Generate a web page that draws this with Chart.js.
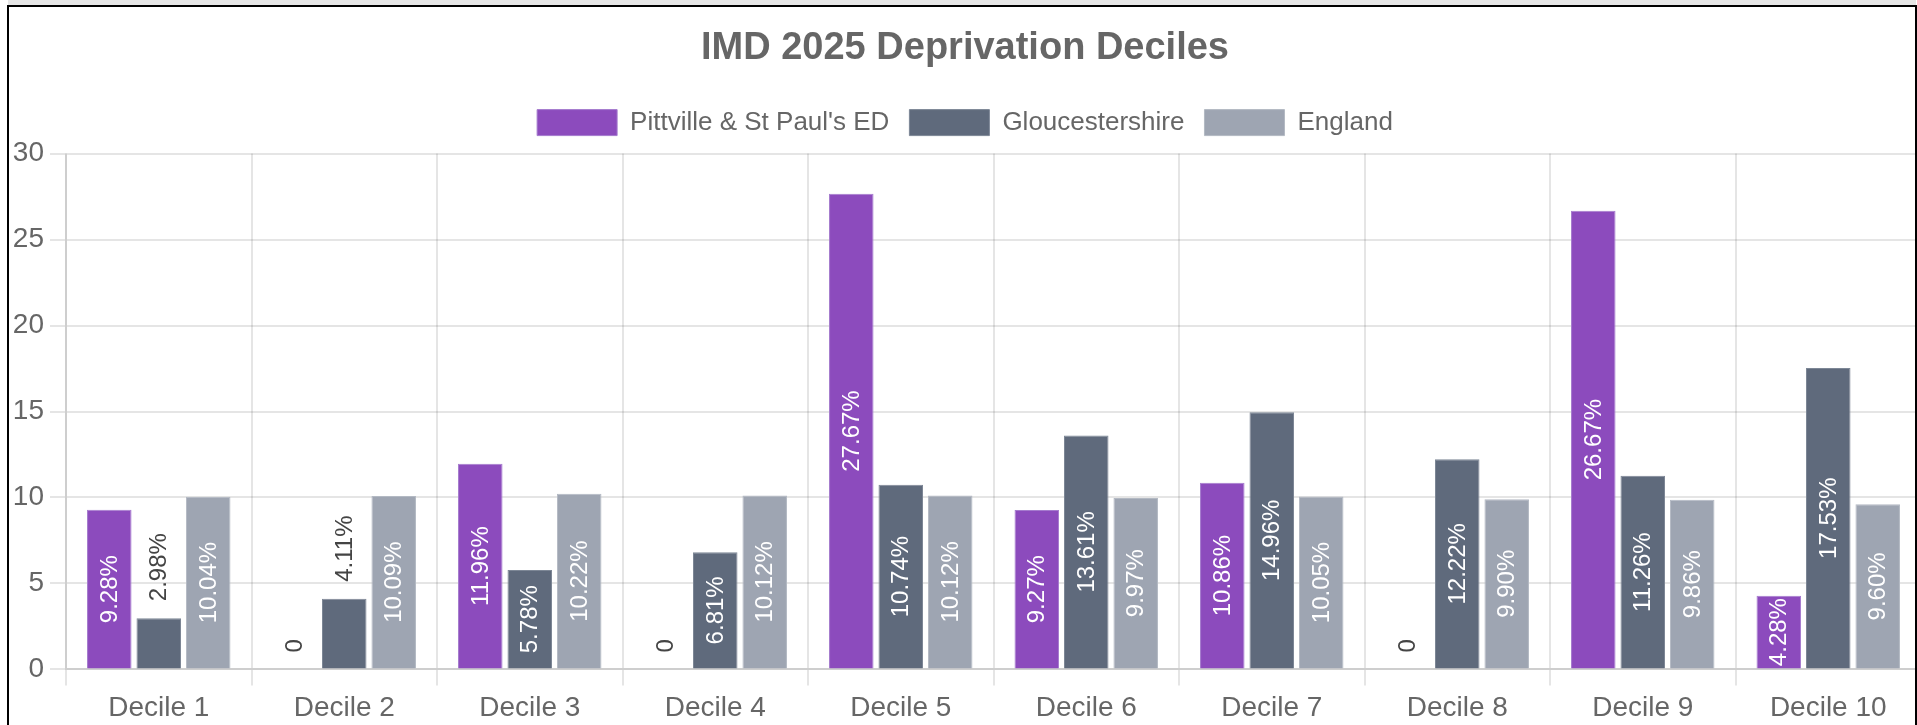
<!DOCTYPE html>
<html>
<head>
<meta charset="utf-8">
<script src="https://cdn.jsdelivr.net/npm/chart.js@4.4.1/dist/chart.umd.min.js"></script>
<style>
  html, body { margin: 0; padding: 0; background: #fff; overflow: hidden; width: 1917px; height: 725px; }
  #strip { position: absolute; left: 8px; top: 0; width: 1908px; height: 5px; background: #e6e6e6; }
  #box { position: absolute; left: 7px; top: 5px; width: 1906px; height: 760px; border: 2px solid #000; border-bottom: none; }
  #c { position: absolute; left: 9px; top: 7px; }
</style>
</head>
<body>
<div id="strip"></div>
<div id="box"></div>
<canvas id="c" width="1912" height="724"></canvas>
<script>
const categories = ["Decile 1", "Decile 2", "Decile 3", "Decile 4", "Decile 5", "Decile 6", "Decile 7", "Decile 8", "Decile 9", "Decile 10"];
const seriesNames = ["Pittville & St Paul's ED", "Gloucestershire", "England"];
const pittville = [9.28, 0, 11.96, 0, 27.67, 9.27, 10.86, 0, 26.67, 4.28];
const gloucestershire = [2.98, 4.11, 5.78, 6.81, 10.74, 13.61, 14.96, 12.22, 11.26, 17.53];
const england = [10.04, 10.09, 10.22, 10.12, 10.12, 9.97, 10.05, 9.90, 9.86, 9.60];
const yTicks = [0, 5, 10, 15, 20, 25, 30];
const chartTitle = "IMD 2025 Deprivation Deciles";
const insideThreshold = 4.2;

const colors = ["#8c4bbd", "#5f6a7c", "#9ea5b2"];
const borders = ["#a57bce", "#7d8796", "#b3b9c3"];

const FONT = "'Liberation Sans', Arial, Helvetica, sans-serif";

const legendGap = {
  id: 'legendGap',
  afterInit(chart) {
    const lg = chart.legend;
    if (lg && !lg._patched) {
      const orig = lg.fit;
      lg.fit = function () { orig.call(this); this.height += 8; };
      lg._patched = true;
    }
  }
};

const barLabels = {
  id: 'barLabels',
  afterDatasetsDraw(chart) {
    const ctx = chart.ctx;
    ctx.save();
    ctx.font = "24px " + FONT;
    ctx.textBaseline = 'middle';
    ctx.textAlign = 'center';
    chart.data.datasets.forEach((ds, di) => {
      const meta = chart.getDatasetMeta(di);
      meta.data.forEach((bar, i) => {
        const v = ds.data[i];
        const txt = v === 0 ? '0' : v.toFixed(2) + '%';
        const w = ctx.measureText(txt).width;
        let cx = bar.x, cy, col;
        if (v >= insideThreshold) {
          cy = (bar.y + bar.base) / 2;
          col = '#ffffff';
        } else {
          cy = bar.y - 17 - w / 2;
          col = '#444444';
        }
        ctx.save();
        ctx.translate(cx, cy);
        ctx.rotate(-Math.PI / 2);
        ctx.fillStyle = col;
        ctx.fillText(txt, 0, 1);
        ctx.restore();
      });
    });
    ctx.restore();
  }
};

new Chart(document.getElementById('c'), {
  type: 'bar',
  data: {
    labels: categories,
    datasets: [
      { label: seriesNames[0], data: pittville, backgroundColor: colors[0], borderColor: borders[0], borderWidth: 1 },
      { label: seriesNames[1], data: gloucestershire, backgroundColor: colors[1], borderColor: borders[1], borderWidth: 1 },
      { label: seriesNames[2], data: england, backgroundColor: colors[2], borderColor: borders[2], borderWidth: 1 }
    ]
  },
  options: {
    responsive: false,
    devicePixelRatio: 1,
    animation: false,
    layout: { padding: 0 },
    plugins: {
      title: {
        display: true, text: chartTitle, color: '#666',
        font: { family: FONT, size: 38, weight: 'bold' },
        padding: { top: 19, bottom: 18 }
      },
      legend: {
        labels: {
          color: '#666', boxWidth: 80, boxHeight: 26, padding: 20,
          font: { family: FONT, size: 26 }
        }
      },
      tooltip: { enabled: false }
    },
    scales: {
      x: {
        grid: { color: 'rgba(0,0,0,0.1)', lineWidth: 2, tickLength: 16 },
        border: { color: 'rgba(0,0,0,0.1)', width: 2 },
        ticks: { color: '#666', font: { family: FONT, size: 28 }, padding: 6, maxRotation: 0 }
      },
      y: {
        min: 0, max: 30,
        afterBuildTicks(scale) { scale.ticks = yTicks.map(v => ({ value: v })); },
        afterFit(scale) { scale.width = 57; },
        grid: { color: 'rgba(0,0,0,0.1)', lineWidth: 2, tickLength: 16 },
        border: { color: 'rgba(0,0,0,0.1)', width: 2 },
        ticks: { color: '#666', font: { family: FONT, size: 28 }, padding: 6 }
      }
    }
  },
  plugins: [legendGap, barLabels]
});
</script>
</body>
</html>
